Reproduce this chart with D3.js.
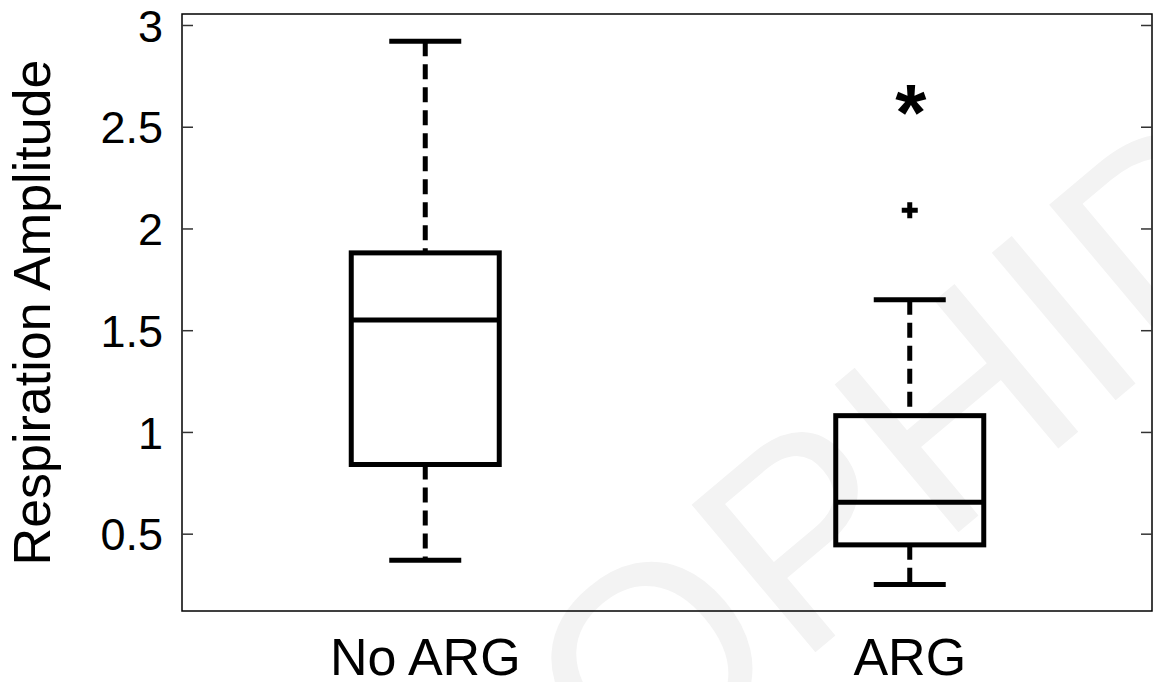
<!DOCTYPE html>
<html>
<head>
<meta charset="utf-8">
<script src="https://cdn.jsdelivr.net/npm/d3@7"></script>
<style>
  body { margin: 0; background: #fff; }
  svg { display: block; }
  text { font-family: "Liberation Sans", Arial, sans-serif; }
</style>
</head>
<body>
<svg id="chart" width="1153" height="682"></svg>
<script>
// donnees
var groups = ["No ARG", "ARG"];
var whiskerLow = [0.37, 0.25];
var q1 = [0.84, 0.445];
var medians = [1.55, 0.655];
var q3 = [1.88, 1.08];
var whiskerHigh = [2.92, 1.65];
var outliers = [[], [2.09]];
var yTicks = [0.5, 1, 1.5, 2, 2.5, 3];
var starValue = 2.63; // asterisque au-dessus du groupe ARG
var starGroup = "ARG";

var margin = { left: 182, right: 1152, top: 14, bottom: 611 };

var svg = d3.select("#chart");

// filigrane tres clair, en diagonale
svg.append("text")
    .attr("transform", "translate(333,1057) rotate(-40)")
    .attr("font-size", 280)
    .attr("fill", "#f3f3f3")
    .text("SCOPHIDE");

var y = d3.scaleLinear()
    .domain([0.12, 3.054])
    .range([margin.bottom, margin.top]);

var x = d3.scalePoint()
    .domain(groups)
    .range([183, 1152])
    .padding(0.5);

// cadre
svg.append("rect")
    .attr("x", margin.left)
    .attr("y", margin.top)
    .attr("width", margin.right - margin.left)
    .attr("height", margin.bottom - margin.top)
    .attr("fill", "none")
    .attr("stroke", "#000")
    .attr("stroke-width", 1.5);

// graduations gauche et droite
var yAxis = d3.axisLeft(y).tickValues(yTicks).tickSize(-11).tickPadding(20)
    .tickFormat(d3.format("~g"));
var gy = svg.append("g").attr("transform", "translate(" + margin.left + ",0)").call(yAxis);
gy.select(".domain").remove();
gy.selectAll(".tick line").attr("stroke", "#333").attr("stroke-width", 1.5);
gy.selectAll(".tick text")
    .attr("font-size", 45)
    .attr("fill", "#000")
    .attr("x", -19)
    .attr("dy", "0.36em");

var yRight = d3.axisRight(y).tickValues(yTicks).tickSize(-11).tickFormat("");
var gr = svg.append("g").attr("transform", "translate(" + margin.right + ",0)").call(yRight);
gr.select(".domain").remove();
gr.selectAll(".tick line").attr("stroke", "#333").attr("stroke-width", 1.5);

// etiquettes des groupes
svg.selectAll(".xlabel")
    .data(groups)
    .enter().append("text")
        .attr("class", "xlabel")
        .attr("x", d => x(d))
        .attr("y", 675)
        .attr("text-anchor", "middle")
        .attr("font-size", 52)
        .text(d => d);

// titre de l'axe y
svg.append("text")
    .attr("transform", "translate(50," + (margin.top + margin.bottom) / 2 + ") rotate(-90)")
    .attr("text-anchor", "middle")
    .attr("font-size", 52)
    .text("Respiration Amplitude");

var boxHalf = 74;
var capHalf = 36;
var lw = 5;

var box = svg.selectAll(".box")
    .data(groups)
    .enter().append("g")
        .attr("class", "box");

// moustaches en tirets
box.append("line")
    .attr("x1", d => x(d)).attr("x2", d => x(d))
    .attr("y1", (d, i) => y(whiskerHigh[i]))
    .attr("y2", (d, i) => y(q3[i]))
    .attr("stroke", "#000").attr("stroke-width", lw)
    .attr("stroke-dasharray", "15,8");
box.append("line")
    .attr("x1", d => x(d)).attr("x2", d => x(d))
    .attr("y1", (d, i) => y(q1[i]))
    .attr("y2", (d, i) => y(whiskerLow[i]))
    .attr("stroke", "#000").attr("stroke-width", lw)
    .attr("stroke-dasharray", "15,8");

// extremites
[whiskerHigh, whiskerLow].forEach(function(arr) {
    box.append("line")
        .attr("x1", d => x(d) - capHalf).attr("x2", d => x(d) + capHalf)
        .attr("y1", (d, i) => y(arr[i])).attr("y2", (d, i) => y(arr[i]))
        .attr("stroke", "#000").attr("stroke-width", lw);
});

// boites
box.append("rect")
    .attr("x", d => x(d) - boxHalf)
    .attr("y", (d, i) => y(q3[i]))
    .attr("width", boxHalf * 2)
    .attr("height", (d, i) => y(q1[i]) - y(q3[i]))
    .attr("fill", "none")
    .attr("stroke", "#000").attr("stroke-width", lw);

// medianes
box.append("line")
    .attr("x1", d => x(d) - boxHalf).attr("x2", d => x(d) + boxHalf)
    .attr("y1", (d, i) => y(medians[i])).attr("y2", (d, i) => y(medians[i]))
    .attr("stroke", "#000").attr("stroke-width", lw);

// valeurs aberrantes (+)
groups.forEach(function(g, i) {
    outliers[i].forEach(function(v) {
        svg.append("path")
            .attr("d", "M" + (x(g) - 8) + "," + y(v) + "h16M" + x(g) + "," + (y(v) - 8) + "v16")
            .attr("stroke", "#000").attr("stroke-width", 5);
    });
});

// asterisque
svg.append("text")
    .attr("x", x(starGroup) + 1)
    .attr("y", y(starValue))
    .attr("dy", "0.5em")
    .attr("text-anchor", "middle")
    .attr("font-size", 80)
    .attr("font-weight", "bold")
    .text("*");
</script>
</body>
</html>
